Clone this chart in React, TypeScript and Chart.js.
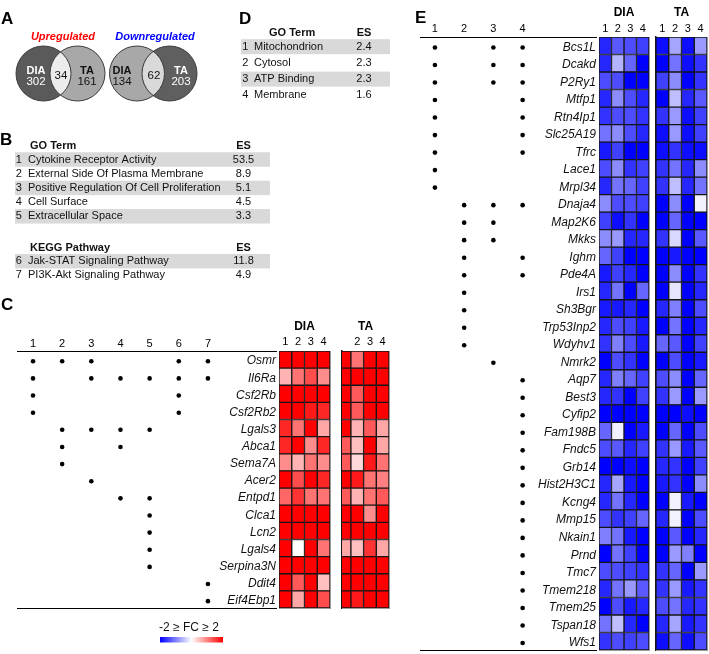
import React, { useEffect, useRef } from 'react';
import { Chart, registerables } from 'chart.js';

Chart.register(...registerables);

const FONT = "'Liberation Sans', Arial, Helvetica, sans-serif";
Chart.defaults.font.family = FONT;
Chart.defaults.color = '#000';

// ---------------- Panel A: Venn counts [DIA only, shared, TA only]
const vennSetNames = ['DIA', 'TA'];
const vennTitles = ['Upregulated', 'Downregulated'];
const vennUp = [302, 34, 161];
const vennDown = [134, 62, 203];

// ---------------- Panel B
const bGoTerms = [
  'Cytokine Receptor Activity',
  'External Side Of Plasma Membrane',
  'Positive Regulation Of Cell Proliferation',
  'Cell Surface',
  'Extracellular Space',
];
const bGoEs = [53.5, 8.9, 5.1, 4.5, 3.3];
const bKeggPathways = ['Jak-STAT Signaling Pathway', 'PI3K-Akt Signaling Pathway'];
const bKeggEs = [11.8, 4.9];

// ---------------- Panel D
const dGoTerms = ['Mitochondrion', 'Cytosol', 'ATP Binding', 'Membrane'];
const dGoEs = [2.4, 2.3, 2.3, 1.6];

// ---------------- Shared
const replicates = [1, 2, 3, 4];

// ---------------- Panel C (upregulated)
const cCategories = [1, 2, 3, 4, 5, 6, 7];
const cGenes = ['Osmr', 'Il6Ra', 'Csf2Rb', 'Csf2Rb2', 'Lgals3', 'Abca1', 'Sema7A', 'Acer2', 'Entpd1', 'Clca1', 'Lcn2', 'Lgals4', 'Serpina3N', 'Ddit4', 'Eif4Ebp1'];
const cMembership = [
  [1, 2, 3, 6, 7], [1, 3, 4, 5, 6, 7], [1, 6], [1, 6], [2, 3, 4, 5], [2, 4], [2], [3], [4, 5], [5], [5], [5], [5], [7], [7],
];
const cDIA = [
  [2, 2, 2, 2], [0.6, 1.1, 1.4, 0.9], [2, 2, 2, 2], [2, 2, 1.8, 1.7], [1.7, 1.1, 2, 0.7],
  [1.7, 2, 0.9, 1.7], [0.9, 0.6, 1.1, 0.9], [2, 1.4, 2, 1.7], [1.2, 1.6, 1.1, 1.1], [2, 2, 2, 2],
  [2, 2, 2, 2], [2, 0, 2, 1.1], [2, 2, 2, 2], [2, 1.3, 2, 0.5], [2, 0.7, 2, 1.4],
];
const cTA = [
  [2, 1.1, 2, 2], [2, 2, 2, 2], [2, 1.3, 2, 2], [2, 1.3, 2, 2], [2, 0.6, 1.3, 0.7],
  [1.3, 0.5, 2, 0.7], [1.3, 0.3, 1.8, 1.1], [2, 1.8, 1.1, 1.0], [1.3, 0.6, 1.1, 1.3], [2, 2, 0.9, 2],
  [2, 2, 2, 2], [0.7, 0.5, 1.6, 0.7], [2, 2, 2, 2], [2, 2, 2, 2], [2, 1.8, 2, 2],
];

// ---------------- Panel E (downregulated)
const eCategories = [1, 2, 3, 4];
const eGenes = ['Bcs1L', 'Dcakd', 'P2Ry1', 'Mtfp1', 'Rtn4Ip1', 'Slc25A19', 'Tfrc', 'Lace1', 'Mrpl34', 'Dnaja4', 'Map2K6', 'Mkks', 'Ighm', 'Pde4A', 'Irs1', 'Sh3Bgr', 'Trp53Inp2', 'Wdyhv1', 'Nmrk2', 'Aqp7', 'Best3', 'Cyfip2', 'Fam198B', 'Fndc5', 'Grb14', 'Hist2H3C1', 'Kcng4', 'Mmp15', 'Nkain1', 'Prnd', 'Tmc7', 'Tmem218', 'Tmem25', 'Tspan18', 'Wfs1'];
const eMembership = [
  [1, 3, 4], [1, 3, 4], [1, 3, 4], [1, 4], [1, 4], [1, 4], [1, 4], [1], [1], [2, 3, 4], [2, 3], [2, 3], [2, 4], [2, 4], [2], [2], [2], [2], [3],
  [4], [4], [4], [4], [4], [4], [4], [4], [4], [4], [4], [4], [4], [4], [4], [4],
];
const eDIA = [
  [-1.7, -1.3, -1.4, -1.5], [-1.7, -0.6, -1.2, -2.0], [-1.4, -1.4, -2.0, -2.0], [-1.7, -0.9, -1.4, -1.7], [-1.6, -1.4, -1.4, -1.6],
  [-1.1, -0.9, -1.4, -1.7], [-1.8, -1.5, -2.0, -2.0], [-1.4, -0.9, -1.6, -1.5], [-1.7, -1.1, -1.2, -1.5], [-0.9, -1.4, -1.4, -1.5],
  [-1.5, -1.9, -1.6, -2.0], [-0.9, -0.8, -1.7, -1.7], [-1.2, -1.5, -2.0, -2.0], [-1.8, -1.5, -1.7, -2.0], [-1.7, -1.1, -2.0, -1.2],
  [-1.8, -1.8, -1.7, -2.0], [-1.7, -1.4, -1.5, -1.8], [-1.6, -1.0, -1.4, -1.8], [-2.0, -1.4, -1.6, -2.0], [-1.7, -1.0, -1.2, -1.5],
  [-1.7, -1.6, -2.0, -1.5], [-2.0, -2.0, -2.0, -2.0], [-1.2, -0.1, -2.0, -1.8], [-1.4, -1.3, -1.7, -1.5], [-2.0, -2.0, -1.9, -2.0],
  [-1.7, -0.7, -1.8, -2.0], [-1.7, -1.1, -1.7, -2.0], [-1.4, -1.6, -1.5, -1.2], [-1.0, -1.1, -1.8, -2.0], [-2.0, -1.1, -1.5, -2.0],
  [-1.4, -1.4, -1.5, -1.6], [-1.7, -1.1, -0.8, -1.3], [-2.0, -1.4, -1.8, -1.7], [-1.1, -0.5, -1.7, -2.0], [-1.6, -1.4, -1.5, -1.4],
];
const eTA = [
  [-1.9, -0.7, -1.9, -0.8], [-2.0, -1.1, -1.9, -1.6], [-1.5, -0.9, -2.0, -1.6], [-2.0, -0.5, -1.7, -1.3], [-1.6, -0.8, -1.9, -1.5],
  [-1.9, -0.8, -1.9, -1.5], [-1.9, -1.6, -1.9, -1.9], [-1.6, -1.1, -1.7, -0.9], [-1.6, -0.5, -1.7, -1.1], [-2.0, -0.9, -2.0, -0.1],
  [-2.0, -1.2, -2.0, -2.0], [-1.6, -0.3, -2.0, -1.3], [-2.0, -1.8, -2.0, -2.0], [-2.0, -0.9, -2.0, -1.6], [-2.0, -0.2, -2.0, -1.7],
  [-1.7, -1.0, -2.0, -1.4], [-2.0, -1.1, -2.0, -1.7], [-1.2, -1.3, -2.0, -1.5], [-2.0, -1.4, -2.0, -1.8], [-1.4, -0.9, -2.0, -1.2],
  [-1.6, -0.8, -2.0, -0.8], [-2.0, -2.0, -1.9, -2.0], [-2.0, -1.2, -2.0, -1.4], [-1.6, -0.8, -1.8, -1.3], [-1.7, -1.6, -2.0, -1.5],
  [-1.8, -1.6, -2.0, -0.9], [-2.0, -0.1, -1.8, -2.0], [-1.7, -0.1, -2.0, -1.4], [-2.0, -1.3, -2.0, -1.7], [-2.0, -0.8, -1.0, -2.0],
  [-1.6, -1.2, -2.0, -0.8], [-1.6, -0.8, -1.8, -1.6], [-1.4, -1.1, -1.7, -1.6], [-1.7, -0.7, -1.8, -1.6], [-1.9, -1.2, -1.9, -1.4],
];

const legendLabel = '-2 \u2265 FC \u2265 2';
const legendRange = [-2, 2];

// ---------------- helpers
function fcColor(v: number) {
  const t = Math.max(0, Math.min(1, Math.abs(v) / legendRange[1]));
  const c = Math.round(255 * (1 - t));
  return v >= 0 ? `rgb(255,${c},${c})` : `rgb(${c},${c},255)`;
}

const base: any = {
  animation: false,
  responsive: false,
  maintainAspectRatio: false,
  devicePixelRatio: 1,
  events: [],
  plugins: { legend: { display: false }, tooltip: { enabled: false }, title: { display: false } },
};

const ROW_SHIFT = 0.1;

const C_LAYOUT = { top: 351, bottom: 608, dotsLeft: 15, firstColX: 31, colStep: 29.67, diaLeft: 279, diaRight: 330, taLeft: 342, taRight: 389, headH: 40, titlePad: 8.8, numPad: 2.1, dotNumPad: 0, labelW: 150, taMin: 0.8 };
const E_LAYOUT = { top: 37, bottom: 650, dotsLeft: 418, firstColX: 433, colStep: 30, diaLeft: 599, diaRight: 649, taLeft: 656, taRight: 707, headH: 37, titlePad: 5.1, numPad: 1.1, dotNumPad: 1.1, labelW: 170, taMin: 0.5 };

function noPad(s: any) {
  s.paddingTop = 0;
  s.paddingBottom = 0;
  s.paddingLeft = 0;
  s.paddingRight = 0;
}

function makeDots(L: any, genes: string[], membership: number[][], cats: number[]) {
  const w = L.diaLeft - L.dotsLeft;
  const min = cats[0] - (L.firstColX - L.dotsLeft) / L.colStep;
  const max = cats[0] + (L.diaLeft - L.firstColX) / L.colStep;
  const pts: any[] = [];
  genes.forEach((g, i) => membership[i].forEach((c) => pts.push({ x: c, y: i })));
  const n = genes.length;
  return {
    box: { left: L.dotsLeft, top: L.top - L.headH, width: w, height: L.headH + (L.bottom - L.top) + 3 },
    make: () => ({
      type: 'scatter',
      data: { datasets: [{ data: pts, pointRadius: 2.3, pointHoverRadius: 2.3, backgroundColor: '#000', borderWidth: 0 }] },
      options: {
        ...base,
        layout: { padding: { top: 0, left: 0, right: 0, bottom: 3 } },
        scales: {
          x: {
            type: 'linear', position: 'top', min, max,
            afterBuildTicks: (s: any) => { s.ticks = cats.map((v) => ({ value: v })); },
            afterFit: (s: any) => { s.height = L.headH; noPad(s); },
            grid: { display: false, drawTicks: false },
            border: { display: true, color: '#000', width: 1 },
            ticks: { padding: L.dotNumPad, font: { size: 11 }, color: '#000', maxRotation: 0, autoSkip: false },
          },
          xb: {
            type: 'linear', position: 'bottom', min, max,
            grid: { display: false, drawTicks: false },
            border: { display: true, color: '#000', width: 1 },
            ticks: { display: false },
            afterFit: (s: any) => { s.height = 0; noPad(s); },
          },
          y: { type: 'linear', reverse: true, min: -0.5 - ROW_SHIFT, max: n - 0.5 - ROW_SHIFT, display: false },
        },
      },
    }),
  };
}

const framePlugin = {
  id: 'frame',
  afterDatasetsDraw(chart: any) {
    const { ctx, chartArea: a } = chart;
    ctx.save();
    ctx.strokeStyle = '#9a9a9a';
    ctx.lineWidth = 1;
    ctx.beginPath();
    ctx.moveTo(a.right + 0.5, a.top);
    ctx.lineTo(a.right + 0.5, a.bottom + 1);
    ctx.moveTo(a.left, a.bottom + 0.5);
    ctx.lineTo(a.right + 1, a.bottom + 0.5);
    ctx.stroke();
    ctx.restore();
  },
};

function makeHeat(L: any, genes: string[], values: number[][], reps: number[], title: string, isDia: boolean) {
  const left = isDia ? L.diaLeft : L.taLeft;
  const right = isDia ? L.diaRight : L.taRight;
  const padL = isDia ? L.labelW : 2;
  const xmin = isDia ? reps[0] - 0.5 : L.taMin;
  const xmax = reps[reps.length - 1] + 0.5;
  return {
    box: { left: left - padL, top: L.top - L.headH, width: padL + (right - left) + 2, height: L.headH + (L.bottom - L.top) + 2 },
    make: () => ({
      type: 'bar',
      data: {
        labels: genes,
        datasets: reps.map((r, j) => ({
          data: genes.map(() => [r - 0.5, r + 0.5]),
          backgroundColor: values.map((row) => fcColor(row[j])),
          borderColor: '#151515',
          borderWidth: 1,
          borderSkipped: false,
          grouped: false,
          categoryPercentage: 1,
          barPercentage: 1,
          clip: 0,
        })),
      },
      options: {
        ...base,
        indexAxis: 'y',
        layout: { padding: { left: isDia ? 0 : 2, right: 2, bottom: 2, top: 0 } },
        scales: {
          x: {
            type: 'linear', position: 'top', min: xmin, max: xmax,
            afterBuildTicks: (s: any) => { s.ticks = reps.filter((r) => r - 0.5 >= xmin - 1e-6 && r + 0.5 <= xmax + 1e-6).map((v) => ({ value: v })); },
            afterFit: (s: any) => { s.height = L.headH; noPad(s); },
            grid: { display: false, drawTicks: false },
            border: { display: false },
            ticks: { padding: L.numPad, font: { size: 11 }, color: '#000', maxRotation: 0, autoSkip: false },
            title: { display: true, text: title, color: '#000', font: { size: 12, weight: 'bold' }, padding: { top: L.titlePad, bottom: 0 } },
          },
          y: {
            type: 'category', position: 'left', offset: true,
            grid: { display: false, drawTicks: false },
            border: { display: !isDia, color: '#151515', width: 1.5 },
            ticks: { display: isDia, padding: 3, labelOffset: 1.5, color: '#111', font: { size: 12, style: 'italic' }, autoSkip: false },
            afterFit: (s: any) => { s.width = isDia ? L.labelW : 0; noPad(s); },
          },
        },
      },
      plugins: [framePlugin],
    }),
  };
}

// ---------------- background panels (A, B, D, letters, legend)
function drawVenn(ctx: any, cxL: number, cxR: number, cy: number, r: number, cols: string[], counts: number[], darkLeft: boolean, pos: any) {
  ctx.save();
  ctx.fillStyle = cols[0];
  ctx.beginPath(); ctx.arc(cxL, cy, r, 0, Math.PI * 2); ctx.fill();
  ctx.fillStyle = cols[1];
  ctx.beginPath(); ctx.arc(cxR, cy, r, 0, Math.PI * 2); ctx.fill();
  ctx.save();
  ctx.beginPath(); ctx.arc(cxL, cy, r, 0, Math.PI * 2); ctx.clip();
  ctx.fillStyle = cols[2];
  ctx.beginPath(); ctx.arc(cxR, cy, r, 0, Math.PI * 2); ctx.fill();
  ctx.restore();
  ctx.strokeStyle = '#3c3c3c';
  ctx.lineWidth = 1;
  ctx.beginPath(); ctx.arc(cxL, cy, r, 0, Math.PI * 2); ctx.stroke();
  ctx.beginPath(); ctx.arc(cxR, cy, r, 0, Math.PI * 2); ctx.stroke();
  ctx.textAlign = 'center';
  ctx.textBaseline = 'middle';
  const lc = darkLeft ? '#fff' : '#111';
  const rc = darkLeft ? '#111' : '#fff';
  ctx.fillStyle = lc;
  ctx.font = `bold 11px ${FONT}`;
  ctx.fillText(vennSetNames[0], pos.lx, pos.ny);
  ctx.font = `11.5px ${FONT}`;
  ctx.fillText(String(counts[0]), pos.lx, pos.cy);
  ctx.fillStyle = rc;
  ctx.font = `bold 11px ${FONT}`;
  ctx.fillText(vennSetNames[1], pos.rx, pos.ny);
  ctx.font = `11.5px ${FONT}`;
  ctx.fillText(String(counts[2]), pos.rx, pos.cy);
  ctx.fillStyle = '#111';
  ctx.fillText(String(counts[1]), pos.mx, pos.my);
  ctx.restore();
}

function drawTable(ctx: any, o: any) {
  ctx.save();
  ctx.fillStyle = '#111';
  ctx.textBaseline = 'middle';
  ctx.font = `bold 11px ${FONT}`;
  ctx.textAlign = 'left';
  ctx.fillText(o.header, o.headX, o.headY);
  ctx.textAlign = 'center';
  ctx.fillText('ES', o.esX, o.headY);
  o.rows.forEach((t: string, i: number) => {
    const y = o.firstY + i * o.step;
    if (i % 2 === 0) {
      ctx.fillStyle = '#d9d9d9';
      ctx.fillRect(o.bandL, y - o.bandH / 2, o.bandR - o.bandL, o.bandH);
    }
    ctx.fillStyle = '#111';
    ctx.font = `11px ${FONT}`;
    ctx.textAlign = 'center';
    ctx.fillText(String(o.start + i), o.numX, y);
    ctx.textAlign = 'left';
    ctx.fillText(t, o.textX, y);
    ctx.textAlign = 'center';
    ctx.fillText(o.es[i].toFixed(1), o.esX, y);
  });
  ctx.restore();
}

const panelsPlugin = {
  id: 'panels',
  afterDraw(chart: any) {
    const ctx = chart.ctx;
    ctx.save();
    ctx.fillStyle = '#000';
    ctx.textAlign = 'left';
    ctx.textBaseline = 'alphabetic';
    ctx.font = `bold 17px ${FONT}`;
    ctx.fillText('A', 1, 24);
    ctx.fillText('B', 0, 145);
    ctx.fillText('C', 1, 310);
    ctx.fillText('D', 239, 24);
    ctx.fillText('E', 415, 23);

    ctx.textAlign = 'center';
    ctx.textBaseline = 'middle';
    ctx.font = `italic bold 11px ${FONT}`;
    ctx.fillStyle = '#ff0000';
    ctx.fillText(vennTitles[0], 63, 37);
    ctx.fillStyle = '#0000ff';
    ctx.fillText(vennTitles[1], 155, 37);
    ctx.restore();

    drawVenn(ctx, 43.5, 77.5, 73.5, 27.5, ['#5a5a5a', '#a8a8a8', '#ececec'], vennUp, true,
      { lx: 36, rx: 87, ny: 70.5, cy: 82, mx: 61, my: 76 });
    drawVenn(ctx, 137, 169.5, 73.5, 27.5, ['#a8a8a8', '#5f5f5f', '#d9d9d9'], vennDown, false,
      { lx: 122, rx: 181, ny: 70.5, cy: 82, mx: 154, my: 76 });

    drawTable(ctx, { header: 'GO Term', headX: 30, headY: 146, esX: 243.5, rows: bGoTerms, es: bGoEs, start: 1,
      firstY: 159.5, step: 14.2, bandH: 14.5, bandL: 15, bandR: 270, numX: 18.7, textX: 28 });
    drawTable(ctx, { header: 'KEGG Pathway', headX: 30, headY: 248, esX: 243.5, rows: bKeggPathways, es: bKeggEs, start: 6,
      firstY: 261.2, step: 14.2, bandH: 14.5, bandL: 15, bandR: 270, numX: 18.7, textX: 28 });
    drawTable(ctx, { header: 'GO Term', headX: 269, headY: 33.3, esX: 364, rows: dGoTerms, es: dGoEs, start: 1,
      firstY: 46.7, step: 16.2, bandH: 15, bandL: 241, bandR: 390, numX: 245.3, textX: 254 });

    ctx.save();
    ctx.fillStyle = '#111';
    ctx.font = `12px ${FONT}`;
    ctx.textAlign = 'center';
    ctx.textBaseline = 'middle';
    ctx.fillText(legendLabel, 189, 628);
    const g = ctx.createLinearGradient(160, 0, 223, 0);
    g.addColorStop(0, fcColor(legendRange[0]));
    g.addColorStop(0.5, fcColor(0));
    g.addColorStop(1, fcColor(legendRange[1]));
    ctx.fillStyle = g;
    ctx.fillRect(160, 637, 63, 5.5);
    ctx.restore();
  },
};

const background = {
  box: { left: 0, top: 0, width: 709, height: 654 },
  make: () => ({
    type: 'scatter',
    data: { datasets: [] },
    options: { ...base, scales: { x: { display: false }, y: { display: false } } },
    plugins: [panelsPlugin],
  }),
};

const specs = [
  background,
  makeDots(C_LAYOUT, cGenes, cMembership, cCategories),
  makeHeat(C_LAYOUT, cGenes, cDIA, replicates, 'DIA', true),
  makeHeat(C_LAYOUT, cGenes, cTA, replicates, 'TA', false),
  makeDots(E_LAYOUT, eGenes, eMembership, eCategories),
  makeHeat(E_LAYOUT, eGenes, eDIA, replicates, 'DIA', true),
  makeHeat(E_LAYOUT, eGenes, eTA, replicates, 'TA', false),
];

function ChartBox({ spec }: { spec: any }) {
  const ref = useRef<HTMLCanvasElement>(null);
  useEffect(() => {
    const chart = new Chart(ref.current as HTMLCanvasElement, spec.make());
    return () => chart.destroy();
  }, [spec]);
  const { left, top, width, height } = spec.box;
  return (
    <canvas
      ref={ref}
      width={width}
      height={height}
      style={{ position: 'absolute', left, top, width, height, display: 'block' }}
    />
  );
}

export default function App() {
  return (
    <div style={{ position: 'absolute', left: 0, top: 0, width: 709, height: 654, background: '#fff', overflow: 'hidden' }}>
      {specs.map((s, i) => (
        <ChartBox key={i} spec={s} />
      ))}
    </div>
  );
}
